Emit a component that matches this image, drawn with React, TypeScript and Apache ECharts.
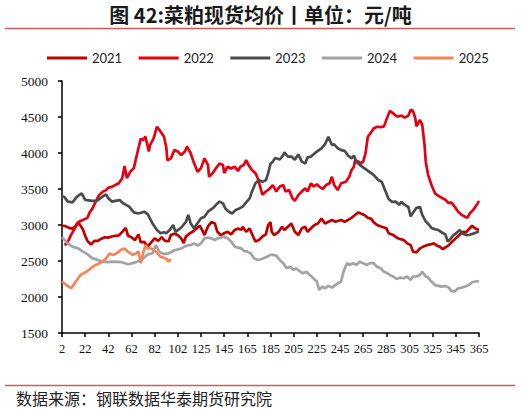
import React, { useEffect, useRef } from "react";
import * as echarts from "echarts";

const TITLE = "图 42:菜粕现货均价丨单位：元/吨";
const SOURCE = "数据来源：钢联数据华泰期货研究院";
const SERIES_NAMES = ["2021", "2022", "2023", "2024", "2025"];
const COLORS = ["#c00000", "#e60012", "#4b4b4b", "#a3a3a3", "#f0865c"];
const MISSING_DAYS = [110, 111, 112];
const Y_MIN = 1500;
const Y_MAX = 5000;
const Y_STEP = 500;

const categories: string[] = [];
for (let d = 2; d <= 365; d++) if (!MISSING_DAYS.includes(d)) categories.push(String(d));

// [category index, value]
const s2021: [number, number][] = [
[0,2990],[3,2985],[6,2960],[9,2950],[12,2990],[14,3040],[16,2990],[18,2940],[20,2850],[22,2780],[25,2730],[28,2780],[31,2780],[34,2810],[37,2830],[40,2825],[43,2840],[46,2850],[49,2855],[52,2905],[55,2960],[57,2850],[60,2830],[63,2790],[66,2870],[68,2760],[71,2765],[74,2700],[77,2760],[80,2815],[83,2780],[86,2830],[89,2780],[92,2775],[94,2860],[97,2880],[100,2860],[103,2810],[105,2750],[107,2840],[110,2880],[113,2910],[116,2950],[119,2990],[121,2930],[123,2860],[126,2980],[129,3040],[132,3020],[134,2910],[137,2860],[140,2885],[143,2905],[146,2870],[149,2930],[152,2950],[155,2935],[156,2975],[159,2905],[162,2950],[165,2840],[167,2770],[170,2790],[173,2840],[176,2870],[178,3000],[180,3040],[181,2910],[183,2860],[187,2905],[190,2975],[192,2930],[195,2975],[198,3020],[201,2905],[204,2860],[207,2955],[210,2975],[212,2905],[215,2955],[218,3000],[221,3020],[224,3090],[227,3020],[230,3045],[233,3070],[236,3045],[238,3055],[241,3070],[244,3045],[247,3070],[250,3100],[253,3140],[256,3175],[258,3160],[261,3140],[264,3100],[267,3085],[269,3040],[272,3000],[276,2975],[280,2955],[282,2885],[286,2860],[290,2815],[295,2790],[298,2745],[301,2720],[303,2630],[306,2620],[309,2675],[312,2700],[315,2720],[318,2730],[321,2745],[324,2710],[326,2700],[329,2665],[332,2700],[334,2720],[337,2770],[340,2815],[343,2860],[346,2905],[349,2900],[352,2955],[354,2990],[357,2950],[360,2930]
];

const s2022: [number, number][] = [
[2,2730],[4,2735],[6,2800],[8,2870],[11,2950],[13,3020],[15,3050],[18,3070],[20,3085],[22,3100],[24,3180],[26,3220],[29,3320],[32,3415],[35,3460],[38,3485],[40,3520],[43,3530],[46,3555],[49,3580],[52,3650],[54,3820],[56,3650],[59,3740],[62,3790],[65,4000],[68,4200],[70,4180],[72,4230],[75,4020],[76,4110],[79,4200],[82,4365],[85,4300],[88,4230],[90,4080],[91,3900],[94,3925],[97,4040],[100,4020],[103,3970],[106,4020],[108,4090],[111,4000],[114,3860],[117,3740],[120,3790],[123,3925],[126,3835],[127,3670],[130,3720],[133,3790],[136,3855],[139,3835],[140,3720],[143,3810],[146,3785],[149,3810],[152,3750],[154,3810],[157,3835],[159,3900],[161,3835],[164,3765],[167,3720],[169,3650],[171,3535],[173,3420],[176,3465],[179,3500],[182,3555],[185,3465],[188,3535],[191,3555],[193,3465],[196,3485],[199,3370],[201,3335],[204,3415],[207,3465],[210,3510],[212,3465],[215,3580],[217,3535],[220,3565],[222,3535],[225,3500],[228,3555],[231,3580],[233,3670],[235,3555],[238,3485],[241,3580],[245,3600],[248,3670],[250,3765],[252,3810],[253,3900],[256,3880],[258,3855],[260,3880],[262,3995],[264,4225],[267,4290],[269,4340],[272,4365],[275,4360],[278,4370],[280,4460],[283,4585],[286,4550],[288,4520],[290,4505],[293,4520],[296,4490],[299,4520],[301,4600],[303,4585],[305,4480],[306,4370],[309,4460],[311,4390],[313,4110],[314,3880],[316,3700],[319,3555],[322,3440],[326,3395],[331,3350],[334,3300],[336,3315],[339,3255],[342,3185],[345,3140],[348,3115],[350,3100],[352,3160],[355,3210],[358,3280],[360,3335]
];

const s2023: [number, number][] = [
[0,3400],[2,3390],[5,3325],[9,3315],[13,3395],[17,3440],[20,3350],[26,3335],[30,3335],[35,3395],[38,3425],[40,3370],[43,3325],[46,3335],[50,3345],[53,3300],[58,3255],[62,3175],[66,3160],[71,3185],[74,3150],[78,3025],[82,2930],[85,2885],[88,2900],[90,2885],[93,2930],[96,3000],[98,2905],[103,2965],[107,3045],[109,3140],[111,3025],[114,2955],[117,3025],[120,3095],[123,3115],[126,3185],[130,3230],[133,3280],[136,3325],[139,3300],[141,3230],[144,3185],[147,3160],[150,3210],[153,3230],[156,3255],[159,3315],[162,3370],[164,3465],[167,3580],[170,3625],[173,3600],[176,3620],[178,3720],[180,3850],[182,3880],[184,3930],[188,3910],[191,3970],[192,4010],[195,3950],[198,3950],[201,3905],[204,3980],[207,3880],[210,3855],[212,3940],[215,3950],[220,4020],[224,4065],[227,4120],[230,4225],[233,4110],[235,4120],[238,4065],[241,4040],[244,4030],[247,3965],[250,3925],[252,3965],[254,3880],[257,3835],[260,3800],[263,3765],[266,3730],[269,3695],[273,3625],[276,3600],[279,3480],[282,3360],[285,3320],[288,3325],[291,3280],[293,3320],[296,3280],[299,3250],[301,3120],[303,3170],[306,3240],[309,3250],[311,3140],[314,3050],[317,3000],[319,2960],[322,2940],[325,2930],[328,2895],[331,2870],[333,2770],[335,2800],[338,2860],[341,2895],[343,2930],[346,2880],[349,2860],[352,2865],[355,2880],[358,2900],[360,2915]
];

const s2024: [number, number][] = [
[0,2830],[5,2745],[9,2700],[14,2675],[18,2630],[22,2595],[26,2540],[31,2515],[35,2490],[39,2485],[45,2490],[51,2485],[57,2455],[61,2470],[65,2490],[70,2535],[74,2590],[78,2605],[81,2720],[84,2630],[88,2595],[92,2605],[97,2650],[101,2665],[103,2675],[106,2700],[109,2720],[111,2720],[114,2745],[117,2715],[120,2745],[123,2815],[126,2825],[129,2815],[132,2790],[134,2815],[137,2825],[140,2840],[143,2815],[146,2770],[149,2700],[152,2685],[155,2675],[157,2640],[160,2630],[163,2605],[166,2535],[169,2515],[172,2525],[175,2545],[177,2560],[180,2585],[182,2585],[185,2575],[188,2515],[191,2470],[194,2400],[197,2420],[200,2375],[202,2400],[205,2360],[208,2330],[211,2350],[214,2305],[217,2260],[220,2215],[222,2100],[225,2145],[227,2120],[230,2155],[233,2130],[236,2165],[238,2190],[241,2215],[243,2350],[246,2470],[248,2445],[251,2470],[254,2445],[257,2490],[260,2470],[263,2445],[266,2470],[269,2470],[272,2420],[275,2400],[278,2350],[281,2330],[283,2305],[286,2285],[289,2250],[292,2270],[295,2260],[298,2285],[301,2235],[303,2285],[306,2285],[309,2305],[311,2350],[314,2285],[316,2270],[319,2215],[322,2165],[325,2155],[328,2145],[331,2155],[334,2130],[336,2085],[339,2075],[342,2120],[345,2130],[348,2145],[351,2165],[354,2205],[357,2215],[360,2220]
];

const s2025: [number, number][] = [
[0,2215],[4,2165],[8,2120],[12,2215],[16,2305],[21,2350],[25,2400],[29,2445],[34,2480],[38,2535],[41,2605],[44,2585],[47,2605],[51,2655],[54,2675],[57,2630],[61,2585],[64,2605],[66,2630],[68,2470],[70,2605],[72,2720],[74,2675],[77,2675],[81,2630],[85,2560],[90,2535],[92,2490],[94,2530]
];

const SERIES_DATA = [s2021, s2022, s2023, s2024, s2025];

export default function App() {
  const ref = useRef<HTMLDivElement>(null);
  useEffect(() => {
    if (!ref.current) return;
    const chart = echarts.init(ref.current, undefined, { renderer: "svg" });
    chart.setOption({
      animation: false,
      backgroundColor: "#ffffff",
      grid: { left: 62, top: 81, width: 417, height: 252, containLabel: false },
      legend: {
        data: SERIES_NAMES,
        left: 42,
        top: 45,
        padding: 5,
        icon: "rect",
        itemWidth: 40,
        itemHeight: 3,
        itemGap: 16.5,
        textStyle: { fontFamily: "Lato", fontSize: 13, color: "#222", lineHeight: 16 },
      },
      xAxis: {
        type: "category",
        data: categories,
        boundaryGap: false,
        axisLine: { lineStyle: { color: "#000", width: 1.5 } },
        axisTick: { interval: 19, length: 4, lineStyle: { color: "#000", width: 1.5 } },
        axisLabel: {
          interval: 19,
          margin: 9,
          fontFamily: "Liberation Serif",
          fontSize: 12.5,
          color: "#111",
        },
        splitLine: { show: false },
      },
      yAxis: {
        type: "value",
        min: Y_MIN,
        max: Y_MAX,
        interval: Y_STEP,
        axisLine: { show: true, lineStyle: { color: "#000", width: 1.5 } },
        axisTick: { show: true, length: 4, lineStyle: { color: "#000", width: 1.5 } },
        axisLabel: {
          margin: 14,
          fontFamily: "Liberation Serif",
          fontSize: 13.5,
          color: "#111",
          formatter: (v: number) => String(v),
        },
        splitLine: { show: false },
      },
      series: SERIES_NAMES.map((name, i) => ({
        name,
        type: "line",
        data: SERIES_DATA[i],
        symbol: "none",
        showSymbol: false,
        lineStyle: { width: 2.7, color: COLORS[i] },
        itemStyle: { color: COLORS[i] },
        emphasis: { disabled: true },
        z: 2 + i,
      })),
      graphic: [
        {
          type: "text",
          left: "center",
          top: 4,
          style: {
            text: TITLE,
            fontFamily: "Noto Sans CJK SC",
            fontWeight: "bold",
            fontSize: 20,
            fill: "#1a1a1a",
          },
        },
        {
          type: "line",
          shape: { x1: 5, y1: 28.5, x2: 515, y2: 28.5 },
          style: { stroke: "#cd5c5c", lineWidth: 1.5 },
        },
        {
          type: "line",
          shape: { x1: 5, y1: 385.5, x2: 515, y2: 385.5 },
          style: { stroke: "#cd5c5c", lineWidth: 1.5 },
        },
        {
          type: "text",
          left: 16,
          top: 390,
          style: {
            text: SOURCE,
            fontFamily: "Noto Sans CJK SC",
            fontSize: 16,
            fill: "#222",
          },
        },
      ],
    });
    return () => chart.dispose();
  }, []);
  return (
    <div
      ref={ref}
      style={{ position: "absolute", left: 0, top: 0, width: 521, height: 411 }}
    />
  );
}
